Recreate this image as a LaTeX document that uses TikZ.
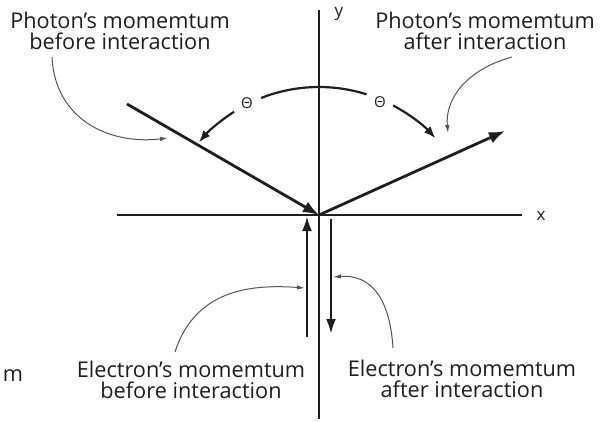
\documentclass[tikz,border=0pt]{standalone}
\usepackage{fontspec}
\setmainfont{Open Sans}
\newfontfamily\grk{Open Sans}
\usetikzlibrary{arrows.meta,calc}
\definecolor{ink}{HTML}{1E1E1E}
\definecolor{callc}{HTML}{555555}
\tikzset{
  axis/.style={draw=ink, line width=2pt},
  vec/.style={draw=ink, line width=2.8pt, -{Latex[length=16pt,width=12pt]}},
  evec/.style={draw=ink, line width=2.8pt, -{Latex[length=15pt,width=10pt]}},
  angarc/.style={draw=ink, line width=2.2pt},
  angarr/.style={draw=ink, line width=2.2pt, -{Latex[length=12pt,width=9pt]}},
  callout/.style={draw=callc, line width=1pt, -{Latex[length=8pt,width=4.5pt]}},
  lbl/.style={text=ink, font=\fontsize{21.7}{21}\selectfont, align=center, inner sep=0pt},
  axl/.style={text=ink, font=\fontsize{17}{18}\selectfont, inner sep=0pt},
  th/.style={text=ink, font=\grk\fontsize{15}{16}\selectfont, inner sep=0pt}
}
\begin{document}
\begin{tikzpicture}[x=1pt,y=-1pt]
\useasboundingbox (0,0) rectangle (600,421);
% axes
\coordinate (O) at (319,215);
\coordinate (xl) at (117,215);
\coordinate (xr) at (522,215);
\coordinate (yt) at (319,10);
\coordinate (yb) at (319,419);
\draw[axis] (xl) -- (xr);
\draw[axis] (yt) -- (yb);
\node[axl] (xlab) at (541,216) {x};
\node[axl] (ylab) at (339,14) {y};
% photon vectors
\coordinate (pin) at (127,104);
\coordinate (pout) at (505,131);
\draw[vec] (pin) -- (O);
\draw[vec] (O) -- (pout);
% electron vectors
\coordinate (eb0) at (307,337);
\coordinate (eb1) at (307,216);
\coordinate (ea0) at (331,219);
\coordinate (ea1) at (331,334);
\draw[evec] (eb0) -- (eb1);
\draw[evec] (ea0) -- (ea1);
% angle arcs (y axis points down, so angles are negated)
\coordinate (C) at (319,245);
\node[th] (thl) at (247,103) {Θ};
\node[th] (thr) at (380,102) {Θ};
\draw[angarc] ($(C)+(-111.5:158)$) arc[start angle=-111.5, end angle=-72.5, radius=158];
\draw[angarr] ($(C)+(-122.5:158)$) arc[start angle=-122.5, end angle=-139.5, radius=158];
\draw[angarr] ($(C)+(-62:158)$) arc[start angle=-62, end angle=-42.5, radius=158];
% labels
\node[lbl] (pbl) at (120,31) {Photon’s momemtum\\before interaction};
\node[lbl] (pal) at (485,31) {Photon’s momemtum\\after interaction};
\node[lbl] (ebl) at (191,380) {Electron’s momemtum\\before interaction};
\node[lbl] (eal) at (462,379) {Electron’s momemtum\\after interaction};
\node[lbl] (mm) at (13,376) {m};
% callouts
\coordinate (c1s) at (52,57);
\coordinate (c1e) at (168,138);
\draw[callout] (c1s) .. controls (55,120) and (110,145) .. (c1e);
\coordinate (c2s) at (512,57);
\coordinate (c2e) at (448,133);
\draw[callout] (c2s) .. controls (465,70) and (445,100) .. (c2e);
\coordinate (c3s) at (175,352);
\coordinate (c3e) at (305,288);
\draw[callout] (c3s) .. controls (195,290) and (250,284) .. (c3e);
\coordinate (c4s) at (393,348);
\coordinate (c4e) at (333,277);
\draw[callout] (c4s) .. controls (390,300) and (372,274) .. (c4e);
\end{tikzpicture}
\end{document}
